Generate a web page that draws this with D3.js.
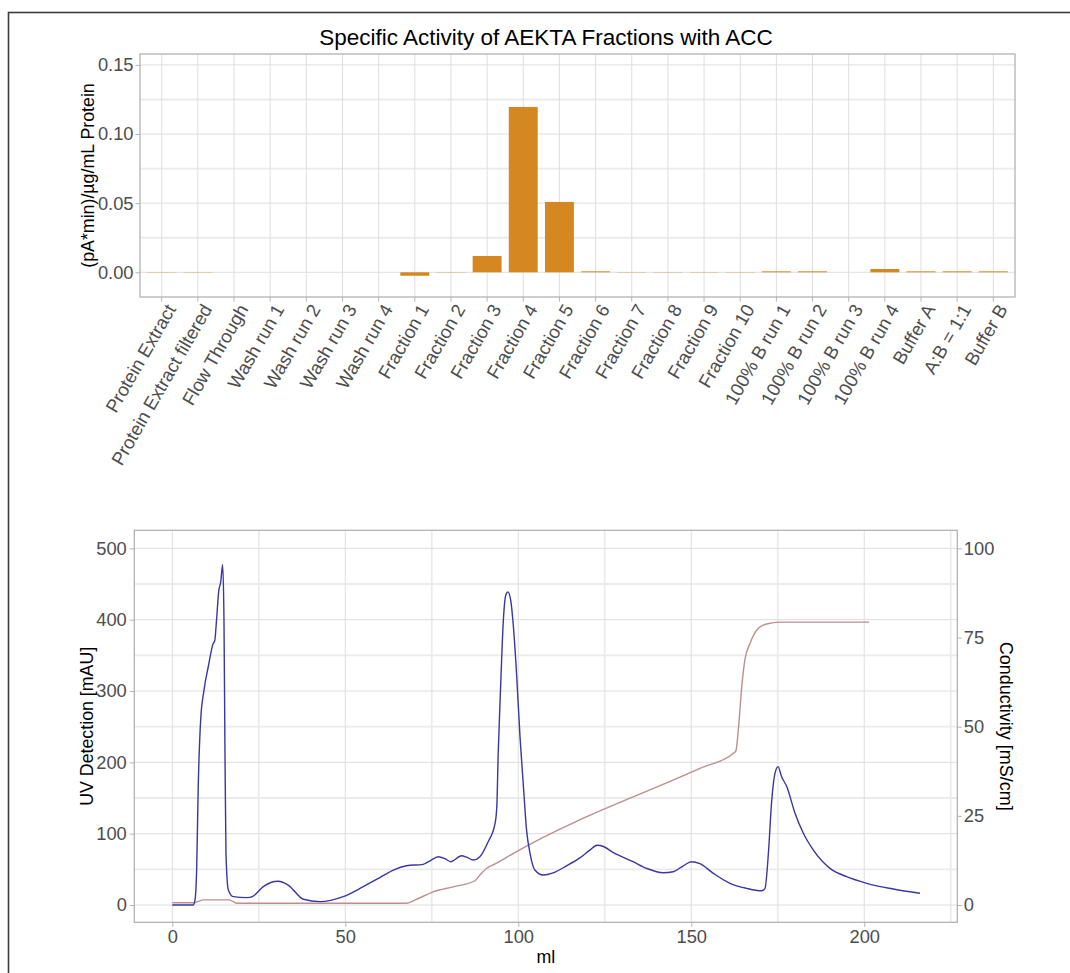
<!DOCTYPE html>
<html>
<head>
<meta charset="utf-8">
<script src="https://cdn.jsdelivr.net/npm/d3@7"></script>
<style>
  body { margin: 0; background: #fff; }
  text { font-family: "Liberation Sans", Arial, sans-serif; }
</style>
</head>
<body>
<div id="chart"></div>
<script>
// bar chart data (specific activity per fraction)
const categories = ["Protein Extract", "Protein Extract filtered", "Flow Through", "Wash run 1", "Wash run 2",
    "Wash run 3", "Wash run 4", "Fraction 1", "Fraction 2", "Fraction 3", "Fraction 4", "Fraction 5",
    "Fraction 6", "Fraction 7", "Fraction 8", "Fraction 9", "Fraction 10", "100% B run 1", "100% B run 2",
    "100% B run 3", "100% B run 4", "Buffer A", "A:B = 1:1", "Buffer B"];
const activity = [0.0002, 0.0002, null, null, null, null, null, -0.0025, 0.0002, 0.0118, 0.1196, 0.0509,
    0.0007, 0.0002, 0.0002, 0.0002, 0.0002, 0.0007, 0.0007, null, 0.0024, 0.0007, 0.0007, 0.0007];
const activityTicks = [0, 0.05, 0.10, 0.15];

// chromatogram: UV trace
const uvMl = [0, 6.0, 6.56, 7.04, 7.5, 8.2, 9.16, 10.4, 11.85, 12.25, 12.8, 13.4, 14.0, 14.56, 14.94, 15.23,
    15.52, 16.2, 17.6, 21.5, 23.4, 26.3, 30.6, 33.5, 37.9, 42.7, 49.4, 55.2, 60.0, 63.9, 67.7, 72.5, 74.5,
    76.9, 78.8, 80.5, 83.6, 85.1, 87.0, 88.9, 91.3, 93.3, 93.8, 94.2, 94.9, 95.7, 96.4, 97.0, 97.8, 98.6,
    99.5, 100.5, 101.5, 102.4, 103.4, 104.8, 107.2, 110.1, 114, 117.8, 120.7, 122.8, 124.6, 127.5, 133.2,
    137.1, 141.9, 144.8, 147.7, 150.1, 152.5, 156.4, 161.2, 166, 170.3, 171.3, 172.3, 173.2, 174.2, 175.1,
    176.1, 177.6, 180, 182.4, 185.3, 190.1, 194.9, 200.7, 208.4, 216.1];
const uvMau = [0, 0, 7, 49, 166, 259, 301, 334, 367, 370, 400, 439, 453, 477, 400, 213,
    72, 21, 11.7, 10.3, 12.6, 25.7, 33.2, 28, 8, 4.7, 11.7, 25.7, 38.5, 49, 55, 57, 62,
    67.7, 65, 60.7, 69, 67, 63, 67.7, 88.7, 114.5, 138, 212, 306, 400, 434.6, 439, 427.6, 390,
    325, 236, 166, 105, 72.5, 49, 42, 45, 55, 66, 77, 83.7, 82, 73.4, 60.7,
    51.4, 45.3, 46.7, 55, 60.7, 58, 44.4, 30.4, 23.4, 20, 23, 72.5, 142.6, 184.6, 194,
    180, 166, 128.5, 100.5, 77, 51.4, 39.7, 30.4, 22.4, 16.4];

// chromatogram: conductivity trace
const condMl = [0, 6.5, 7.5, 9.0, 16.5, 17.5, 18.8, 67.7, 70.6, 75.4, 81.2, 87.5, 88.9, 90.9, 93.3, 98.6,
    152.5, 162.1, 162.9, 163.6, 164.6, 165.5, 167, 169.4, 171.8, 175.6, 201.4];
const condMs = [0.65, 0.65, 1.0, 1.45, 1.45, 1.0, 0.5, 0.5, 1.6, 3.7, 5.1, 6.8, 8.4, 10.3, 11.5, 14.5,
    38.3, 42.5, 43.2, 49, 61.2, 68.7, 73.4, 77.6, 78.8, 79.3, 79.3];

const mlTicks = [0, 50, 100, 150, 200];
const uvTicks = [0, 100, 200, 300, 400, 500];
const condTicks = [0, 25, 50, 75, 100];

(function chart() {
    const width = 1070, height = 973;
    const barColor = "#d58722", uvColor = "#3a36a3", condColor = "#bc8f8f";
    const gridMajor = "#dedede", gridMinor = "#ebebeb", frame = "#b3b3b3", tickText = "#4d4d4d";
    const tickLen = 4.5;

    const svg = d3.select("#chart")
        .append("svg")
        .attr("width", width)
        .attr("height", height);

    // outer frame of the figure
    svg.append("rect")
        .attr("x", 8.5).attr("y", 12.5)
        .attr("width", 1200).attr("height", 1200)
        .attr("fill", "none")
        .attr("stroke", "#3c3c3c")
        .attr("stroke-width", 1.6);

    // ---------- top panel: bars ----------
    const p1 = { left: 140, right: 1015, top: 54, bottom: 297 };

    // one unit per category + 0.6 unit expansion on each side
    const unit = (p1.right - p1.left) / (categories.length + 0.2);
    let x1 = d3.scaleBand()
        .domain(categories)
        .range([p1.left + 0.1 * unit, p1.right - 0.1 * unit])
        .padding(0);
    const cx1 = d => x1(d) + x1.bandwidth() / 2;

    let y1 = d3.scaleLinear()
        .domain([-0.01787, 0.1579])
        .range([p1.bottom, p1.top]);

    const g1 = svg.append("g");

    // grid
    g1.selectAll(".minor-y")
        .data([0.025, 0.075, 0.125])
        .join("line")
        .attr("x1", p1.left).attr("x2", p1.right)
        .attr("y1", d => y1(d)).attr("y2", d => y1(d))
        .attr("stroke", gridMinor).attr("stroke-width", 1.8);
    g1.selectAll(".major-y")
        .data(activityTicks)
        .join("line")
        .attr("x1", p1.left).attr("x2", p1.right)
        .attr("y1", d => y1(d)).attr("y2", d => y1(d))
        .attr("stroke", gridMajor).attr("stroke-width", 1);
    g1.selectAll(".major-x")
        .data(categories)
        .join("line")
        .attr("x1", d => cx1(d)).attr("x2", d => cx1(d))
        .attr("y1", p1.top).attr("y2", p1.bottom)
        .attr("stroke", gridMajor).attr("stroke-width", 1);

    // bars
    const barW = x1.bandwidth() * 0.8;
    g1.selectAll(".bar")
        .data(categories.map((c, i) => ({ c: c, v: activity[i] })).filter(d => d.v !== null))
        .join("rect")
        .attr("x", d => cx1(d.c) - barW / 2)
        .attr("width", barW)
        .attr("y", d => y1(Math.max(0, d.v)))
        .attr("height", d => Math.abs(y1(0) - y1(d.v)))
        .attr("fill", barColor);

    // border
    g1.append("rect")
        .attr("x", p1.left).attr("y", p1.top)
        .attr("width", p1.right - p1.left).attr("height", p1.bottom - p1.top)
        .attr("fill", "none").attr("stroke", frame).attr("stroke-width", 1.3);

    // y axis
    svg.append("g")
        .attr("transform", `translate(${p1.left},0)`)
        .call(d3.axisLeft(y1).tickValues(activityTicks).tickFormat(d3.format(".2f"))
            .tickSize(tickLen).tickPadding(2));
    // x axis
    const ax1 = svg.append("g")
        .attr("class", "cat-axis")
        .attr("transform", `translate(0,${p1.bottom})`)
        .call(d3.axisBottom(x1).tickSize(tickLen).tickPadding(2));

    // title
    svg.append("text")
        .attr("x", 546).attr("y", 45)
        .attr("text-anchor", "middle")
        .attr("font-size", 22.5)
        .text("Specific Activity of AEKTA Fractions with ACC");

    svg.append("text")
        .attr("transform", `translate(94,${(p1.top + p1.bottom) / 2}) rotate(-90)`)
        .attr("text-anchor", "middle")
        .attr("font-size", 17.8)
        .text("(pA*min)/µg/mL Protein");

    // ---------- bottom panel: chromatogram ----------
    const p2 = { left: 134.3, right: 957.3, top: 530.3, bottom: 922.3 };

    let x2 = d3.scaleLinear()
        .domain([-10.98, 226.9])
        .range([p2.left, p2.right]);
    let y2 = d3.scaleLinear()
        .domain([-24.25, 525.3])
        .range([p2.bottom, p2.top]);
    // secondary axis: conductivity = UV / 5
    let y2c = d3.scaleLinear()
        .domain(y2.domain().map(d => d / 5))
        .range([p2.bottom, p2.top]);

    const g2 = svg.append("g");

    g2.selectAll(".minor-y2")
        .data([50, 150, 250, 350, 450])
        .join("line")
        .attr("x1", p2.left).attr("x2", p2.right)
        .attr("y1", d => y2(d)).attr("y2", d => y2(d))
        .attr("stroke", gridMinor).attr("stroke-width", 1.8);
    g2.selectAll(".minor-x2")
        .data([25, 75, 125, 175, 225])
        .join("line")
        .attr("x1", d => x2(d)).attr("x2", d => x2(d))
        .attr("y1", p2.top).attr("y2", p2.bottom)
        .attr("stroke", gridMinor).attr("stroke-width", 1.8);
    g2.selectAll(".major-y2")
        .data(uvTicks)
        .join("line")
        .attr("x1", p2.left).attr("x2", p2.right)
        .attr("y1", d => y2(d)).attr("y2", d => y2(d))
        .attr("stroke", gridMajor).attr("stroke-width", 1);
    g2.selectAll(".major-x2")
        .data(mlTicks)
        .join("line")
        .attr("x1", d => x2(d)).attr("x2", d => x2(d))
        .attr("y1", p2.top).attr("y2", p2.bottom)
        .attr("stroke", gridMajor).attr("stroke-width", 1);

    let uvLine = d3.line()
        .x((d, i) => x2(uvMl[i]))
        .y(d => y2(d))
        .curve(d3.curveMonotoneX);
    let condLine = d3.line()
        .x((d, i) => x2(condMl[i]))
        .y(d => y2c(d))
        .curve(d3.curveMonotoneX);

    g2.append("path")
        .datum(condMs)
        .attr("d", condLine)
        .attr("fill", "none")
        .attr("stroke", condColor)
        .attr("stroke-width", 1.4);
    g2.append("path")
        .datum(uvMau)
        .attr("d", uvLine)
        .attr("fill", "none")
        .attr("stroke", uvColor)
        .attr("stroke-width", 1.4);

    g2.append("rect")
        .attr("x", p2.left).attr("y", p2.top)
        .attr("width", p2.right - p2.left).attr("height", p2.bottom - p2.top)
        .attr("fill", "none").attr("stroke", frame).attr("stroke-width", 1.3);

    svg.append("g")
        .attr("transform", `translate(${p2.left},0)`)
        .call(d3.axisLeft(y2).tickValues(uvTicks).tickSize(tickLen).tickPadding(3));
    svg.append("g")
        .attr("transform", `translate(${p2.right},0)`)
        .call(d3.axisRight(y2c).tickValues(condTicks).tickSize(tickLen).tickPadding(2));
    svg.append("g")
        .attr("transform", `translate(0,${p2.bottom})`)
        .call(d3.axisBottom(x2).tickValues(mlTicks).tickSize(tickLen).tickPadding(3));

    svg.append("text")
        .attr("transform", `translate(93,${(p2.top + p2.bottom) / 2}) rotate(-90)`)
        .attr("text-anchor", "middle")
        .attr("font-size", 17.8)
        .text("UV Detection [mAU]");
    svg.append("text")
        .attr("transform", `translate(1000,${(p2.top + p2.bottom) / 2}) rotate(90)`)
        .attr("text-anchor", "middle")
        .attr("font-size", 18)
        .text("Conductivity [mS/cm]");
    svg.append("text")
        .attr("x", (p2.left + p2.right) / 2).attr("y", 963)
        .attr("text-anchor", "middle")
        .attr("font-size", 17.8)
        .text("ml");

    // axis styling, ggplot light theme look
    svg.selectAll(".domain").remove();
    svg.selectAll(".tick line").attr("stroke", frame);
    svg.selectAll(".tick text")
        .attr("fill", tickText)
        .attr("font-size", 18.3)
        .attr("font-family", "Liberation Sans, Arial, sans-serif");

    // rotated category labels
    ax1.selectAll("text")
        .attr("font-size", 18.5)
        .attr("text-anchor", "end")
        .attr("transform", "rotate(-60)")
        .attr("x", -3)
        .attr("y", 5)
        .attr("dy", "0.75em");
})();
</script>
</body>
</html>
